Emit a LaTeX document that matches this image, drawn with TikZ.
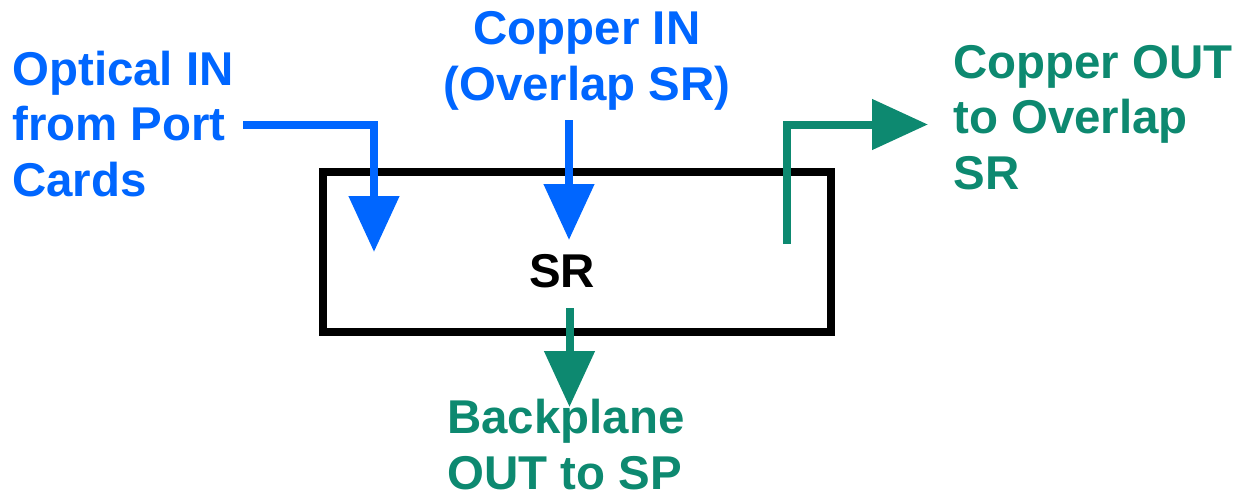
\documentclass[tikz,border=0pt]{standalone}
\usepackage{fontspec}
\setmainfont{Liberation Sans}
\usepackage{tikz}
\usetikzlibrary{arrows.meta,positioning}
\usepackage{xcolor}
\definecolor{srblue}{RGB}{0,102,255}
\definecolor{srgreen}{RGB}{13,137,112}
\tikzset{
    lbl/.style={
        font=\fontsize{27}{31.5}\selectfont\bfseries,inner sep=0pt,
        align=left,text=#1
    },
    lbl/.default=black,
    flow/.style={
        -{Triangle[length=1.12cm,width=0.98cm]},line width=0.16cm,draw=#1
    },
    flow/.default=srblue
}
\begin{document}
\begin{tikzpicture}[x=0.02cm,y=-0.02cm]
\useasboundingbox (0,0) rectangle (1248,497);

\node[draw,line width=0.16cm,minimum width=10.16cm,minimum height=3.2cm,
inner sep=0pt](srbox) at (577,252) {};
\node[lbl,anchor=base](sr) at (562,287) {SR};

\node[lbl=srblue,anchor=base west](optical) at (12,196)
{Optical IN\\from Port\\Cards};
\node[lbl=srblue,align=center,anchor=base](copin) at (587,100)
{Copper IN\\(Overlap SR)};
\node[lbl=srgreen,anchor=base west](copout) at (953,189)
{Copper OUT\\to Overlap\\SR};
\node[lbl=srgreen,anchor=base west](backplane) at (447,489)
{Backplane\\OUT to SP};

\coordinate (optstart) at (243,125);
\coordinate (opttip) at (374,252);
\coordinate (copstart) at (569,120);
\coordinate (coptip) at (569,240);
\coordinate (outstart) at (787,244);
\coordinate (outtip) at (928,124.5);
\coordinate (bpstart) at (569.5,308);
\coordinate (bptip) at (569.5,407);

\draw[flow](optstart)-|(opttip);
\draw[flow](copstart)--(coptip);
\draw[flow=srgreen](outstart)|-(outtip);
\draw[flow=srgreen](bpstart)--(bptip);

\end{tikzpicture}
\end{document}
